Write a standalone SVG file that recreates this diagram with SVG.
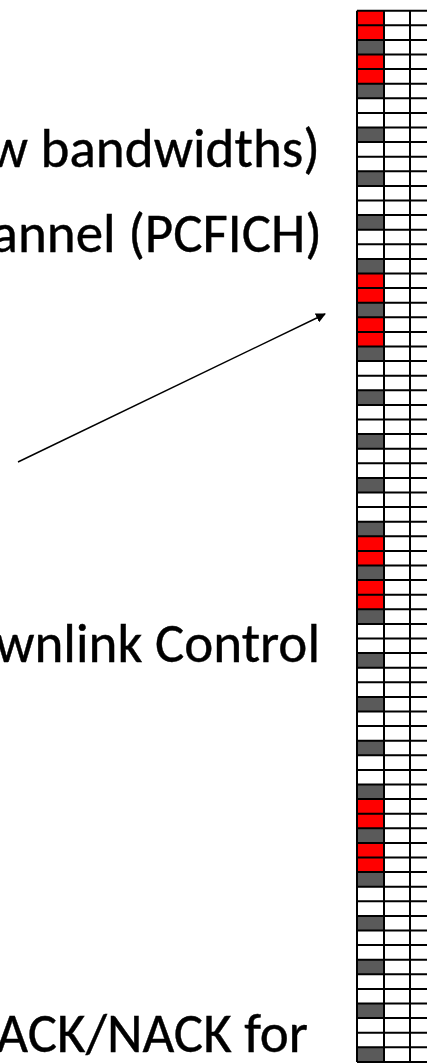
<svg xmlns="http://www.w3.org/2000/svg" width="427" height="1064" viewBox="0 0 427 1064">
  <style>
    .lbl { font-family: Calibri, Carlito, Lato, "Liberation Sans", sans-serif; font-size: 55px; fill: #000; stroke: #000; stroke-width: 0.4; text-anchor: end; }
    .red { fill: #ff0000; }
    .ref { fill: #5a5a5a; }
    .grid { fill: none; stroke: #000; stroke-width: 2; }
    .conn { stroke: #000; stroke-width: 1.5; fill: none; }
  </style>
  <defs>
    <marker id="arrowhead" viewBox="0 0 10 10" refX="9" refY="5" markerWidth="10" markerHeight="10" markerUnits="userSpaceOnUse" orient="auto">
      <path d="M0,0 L10,5 L0,10 z" fill="#000"/>
    </marker>
  </defs>
  <rect width="427" height="1064" fill="#fff"/>

  <!-- labels -->
  <g id="label-bandwidths"><text class="lbl" x="320" y="167">w bandwidths)</text></g>
  <g id="label-pcfich"><text class="lbl" x="322" y="252">annel (PCFICH)</text></g>
  <g id="label-control"><text class="lbl" x="320" y="662">wnlink Control</text></g>
  <g id="label-acknack"><text class="lbl" x="308" y="1052">ACK/NACK for</text></g>

  <!-- resource grid: first column carries control (red) and reference (gray) cells -->
  <g id="resource-grid" transform="translate(357,10.7)">
    <g id="control-cells" class="red">
      <rect x="0" y="0" width="27" height="14.6"/>
      <rect x="0" y="14.6" width="27" height="14.6"/>
      <rect x="0" y="43.8" width="27" height="14.6"/>
      <rect x="0" y="58.4" width="27" height="14.6"/>
      <rect x="0" y="262.8" width="27" height="14.6"/>
      <rect x="0" y="277.4" width="27" height="14.6"/>
      <rect x="0" y="306.6" width="27" height="14.6"/>
      <rect x="0" y="321.2" width="27" height="14.6"/>
      <rect x="0" y="525.6" width="27" height="14.6"/>
      <rect x="0" y="540.2" width="27" height="14.6"/>
      <rect x="0" y="569.4" width="27" height="14.6"/>
      <rect x="0" y="584" width="27" height="14.6"/>
      <rect x="0" y="788.4" width="27" height="14.6"/>
      <rect x="0" y="803" width="27" height="14.6"/>
      <rect x="0" y="832.2" width="27" height="14.6"/>
      <rect x="0" y="846.8" width="27" height="14.6"/>
    </g>
    <g id="reference-cells" class="ref">
      <rect x="0" y="29.2" width="27" height="14.6"/>
      <rect x="0" y="73" width="27" height="14.6"/>
      <rect x="0" y="116.8" width="27" height="14.6"/>
      <rect x="0" y="160.6" width="27" height="14.6"/>
      <rect x="0" y="204.4" width="27" height="14.6"/>
      <rect x="0" y="248.2" width="27" height="14.6"/>
      <rect x="0" y="292" width="27" height="14.6"/>
      <rect x="0" y="335.8" width="27" height="14.6"/>
      <rect x="0" y="379.6" width="27" height="14.6"/>
      <rect x="0" y="423.4" width="27" height="14.6"/>
      <rect x="0" y="467.2" width="27" height="14.6"/>
      <rect x="0" y="511" width="27" height="14.6"/>
      <rect x="0" y="554.8" width="27" height="14.6"/>
      <rect x="0" y="598.6" width="27" height="14.6"/>
      <rect x="0" y="642.4" width="27" height="14.6"/>
      <rect x="0" y="686.2" width="27" height="14.6"/>
      <rect x="0" y="730" width="27" height="14.6"/>
      <rect x="0" y="773.8" width="27" height="14.6"/>
      <rect x="0" y="817.6" width="27" height="14.6"/>
      <rect x="0" y="861.4" width="27" height="14.6"/>
      <rect x="0" y="905.2" width="27" height="14.6"/>
      <rect x="0" y="949" width="27" height="14.6"/>
      <rect x="0" y="992.8" width="27" height="14.6"/>
      <rect x="0" y="1036.6" width="27" height="14.6"/>
    </g>
    <path class="grid" d="M0,0H72M0,14.6H72M0,29.2H72M0,43.8H72M0,58.4H72M0,73H72M0,87.6H72M0,102.2H72M0,116.8H72M0,131.4H72M0,146H72M0,160.6H72M0,175.2H72M0,189.8H72M0,204.4H72M0,219H72M0,233.6H72M0,248.2H72M0,262.8H72M0,277.4H72M0,292H72M0,306.6H72M0,321.2H72M0,335.8H72M0,350.4H72M0,365H72M0,379.6H72M0,394.2H72M0,408.8H72M0,423.4H72M0,438H72M0,452.6H72M0,467.2H72M0,481.8H72M0,496.4H72M0,511H72M0,525.6H72M0,540.2H72M0,554.8H72M0,569.4H72M0,584H72M0,598.6H72M0,613.2H72M0,627.8H72M0,642.4H72M0,657H72M0,671.6H72M0,686.2H72M0,700.8H72M0,715.4H72M0,730H72M0,744.6H72M0,759.2H72M0,773.8H72M0,788.4H72M0,803H72M0,817.6H72M0,832.2H72M0,846.8H72M0,861.4H72M0,876H72M0,890.6H72M0,905.2H72M0,919.8H72M0,934.4H72M0,949H72M0,963.6H72M0,978.2H72M0,992.8H72M0,1007.4H72M0,1022H72M0,1036.6H72M0,1051.2H72M0,0V1051.2M27,0V1051.2M53,0V1051.2"/>
  </g>

  <!-- connector -->
  <g id="connectors">
    <line class="conn" x1="18" y1="462" x2="325" y2="314" marker-end="url(#arrowhead)"/>
  </g>
</svg>
